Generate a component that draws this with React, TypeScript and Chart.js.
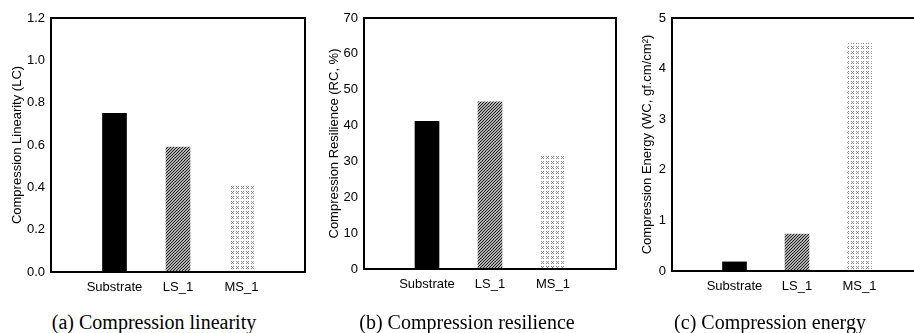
import React, { useEffect, useRef } from 'react';
import { Chart, registerables } from 'chart.js';

Chart.register(...registerables);

// Sample groups shown on every panel
const categories = ['Substrate', 'LS_1', 'MS_1'];

// Measured compression properties per sample
const linearityValues = [0.75, 0.59, 0.41];
const resilienceValues = [41.2, 46.6, 31.4];
const energyValues = [0.18, 0.73, 4.5];

// Axis ranges
const linearityAxis = { max: 1.2, step: 0.2, decimals: 1 };
const resilienceAxis = { max: 70, step: 10, decimals: 0 };
const energyAxis = { max: 5, step: 1, decimals: 0 };

const SANS = "'Liberation Sans', Arial, sans-serif";
const SERIF = "'Liberation Serif', 'Times New Roman', serif";
const CANVAS_H = 300;
const FONT_SIZE = 13;

type Panel = {
  values: number[];
  axis: { max: number; step: number; decimals: number };
  yTitle: string;
  caption: string;
  left: number;
  width: number;
  axisWidth: number;
  titlePad: number;
  plotRight: number;
  plotBottom: number;
  captionX: number;
};

const panels: Panel[] = [
  {
    values: linearityValues,
    axis: linearityAxis,
    yTitle: 'Compression Linearity (LC)',
    caption: '(a) Compression linearity',
    left: 0,
    width: 320,
    axisWidth: 51,
    titlePad: 10,
    plotRight: 305,
    plotBottom: 272,
    captionX: 154,
  },
  {
    values: resilienceValues,
    axis: resilienceAxis,
    yTitle: 'Compression Resilience (RC, %)',
    caption: '(b) Compression resilience',
    left: 310,
    width: 320,
    axisWidth: 54,
    titlePad: 17,
    plotRight: 306,
    plotBottom: 269,
    captionX: 467,
  },
  {
    values: energyValues,
    axis: energyAxis,
    yTitle: 'Compression Energy (WC, gf.cm/cm\u00B2)',
    caption: '(c) Compression energy',
    left: 620,
    width: 310,
    axisWidth: 52,
    titlePad: 20,
    plotRight: 304,
    plotBottom: 271,
    captionX: 770,
  },
];

// Fine diagonal hatch fill
function makeHatch(): CanvasPattern | string {
  const c = document.createElement('canvas');
  c.width = 3;
  c.height = 3;
  const g = c.getContext('2d');
  if (!g) return '#777';
  g.fillStyle = '#b0b0b0';
  g.fillRect(0, 0, 3, 3);
  g.fillStyle = '#202020';
  g.fillRect(0, 2, 1, 1);
  g.fillRect(1, 1, 1, 1);
  g.fillRect(2, 0, 1, 1);
  return g.createPattern(c, 'repeat') || '#777';
}

// Sparse dotted fill
function makeDots(): CanvasPattern | string {
  const c = document.createElement('canvas');
  c.width = 5;
  c.height = 5;
  const g = c.getContext('2d');
  if (!g) return '#ccc';
  g.fillStyle = '#ffffff';
  g.fillRect(0, 0, 5, 5);
  g.fillStyle = '#8c8c8c';
  g.fillRect(1, 1, 1, 1);
  g.fillRect(3, 1, 1, 1);
  g.fillRect(2, 2, 1, 1);
  g.fillRect(1, 3, 1, 1);
  g.fillRect(3, 3, 1, 1);
  return g.createPattern(c, 'repeat') || '#ccc';
}

// Closed box around the plot area
const framePlugin = {
  id: 'frame',
  afterDraw(chart: Chart) {
    const { ctx, chartArea } = chart;
    ctx.save();
    ctx.strokeStyle = '#000';
    ctx.lineWidth = 2;
    ctx.strokeRect(chartArea.left, chartArea.top, chartArea.right - chartArea.left, chartArea.bottom - chartArea.top);
    ctx.restore();
  },
};

function BarPanel({ panel }: { panel: Panel }) {
  const ref = useRef<HTMLCanvasElement | null>(null);

  useEffect(() => {
    const canvas = ref.current;
    if (!canvas) return;
    const labels = ['', ...categories, ''];
    const data = [null, ...panel.values, null];
    const fills = ['#fff', '#000', makeHatch(), makeDots(), '#fff'];
    const chart = new Chart(canvas, {
      type: 'bar',
      data: {
        labels,
        datasets: [
          {
            data: data as any,
            backgroundColor: fills as any,
            borderWidth: 0,
            barThickness: 24,
          },
        ],
      },
      options: {
        responsive: false,
        animation: false,
        devicePixelRatio: 1,
        layout: { padding: { top: 18, right: panel.width - panel.plotRight, left: 0, bottom: 0 } },
        plugins: { legend: { display: false }, tooltip: { enabled: false } },
        scales: {
          x: {
            type: 'category',
            offset: false,
            grid: { display: false, drawTicks: false },
            border: { display: false },
            ticks: {
              autoSkip: false,
              maxRotation: 0,
              padding: 8,
              color: '#000',
              font: { family: SANS, size: FONT_SIZE },
            },
            afterFit: (s: any) => {
              s.height = CANVAS_H - panel.plotBottom;
            },
          },
          y: {
            min: 0,
            max: panel.axis.max,
            grid: { display: false, drawTicks: false },
            border: { display: false },
            ticks: {
              stepSize: panel.axis.step,
              padding: 6,
              color: '#000',
              font: { family: SANS, size: FONT_SIZE },
              callback: (v: any) => Number(v).toFixed(panel.axis.decimals),
            },
            title: {
              display: true,
              text: panel.yTitle,
              color: '#000',
              padding: { top: panel.titlePad, bottom: 0 },
              font: { family: SANS, size: FONT_SIZE },
            },
            afterFit: (s: any) => {
              s.width = panel.axisWidth;
            },
          },
        },
      },
      plugins: [framePlugin],
    });
    return () => chart.destroy();
  }, [panel]);

  return (
    <>
      <canvas
        ref={ref}
        width={panel.width}
        height={CANVAS_H}
        style={{ position: 'absolute', left: panel.left, top: 0, width: panel.width, height: CANVAS_H }}
      />
      <div
        style={{
          position: 'absolute',
          left: panel.captionX - 150,
          width: 300,
          top: 311,
          textAlign: 'center',
          fontFamily: SERIF,
          fontSize: 20,
          lineHeight: '22px',
          color: '#000',
          whiteSpace: 'nowrap',
        }}
      >
        {panel.caption}
      </div>
    </>
  );
}

export default function App() {
  return (
    <div
      style={{
        position: 'fixed',
        left: 0,
        top: 0,
        width: 914,
        height: 333,
        overflow: 'hidden',
        background: '#fff',
      }}
    >
      {panels.map((p, i) => (
        <BarPanel key={i} panel={p} />
      ))}
    </div>
  );
}
